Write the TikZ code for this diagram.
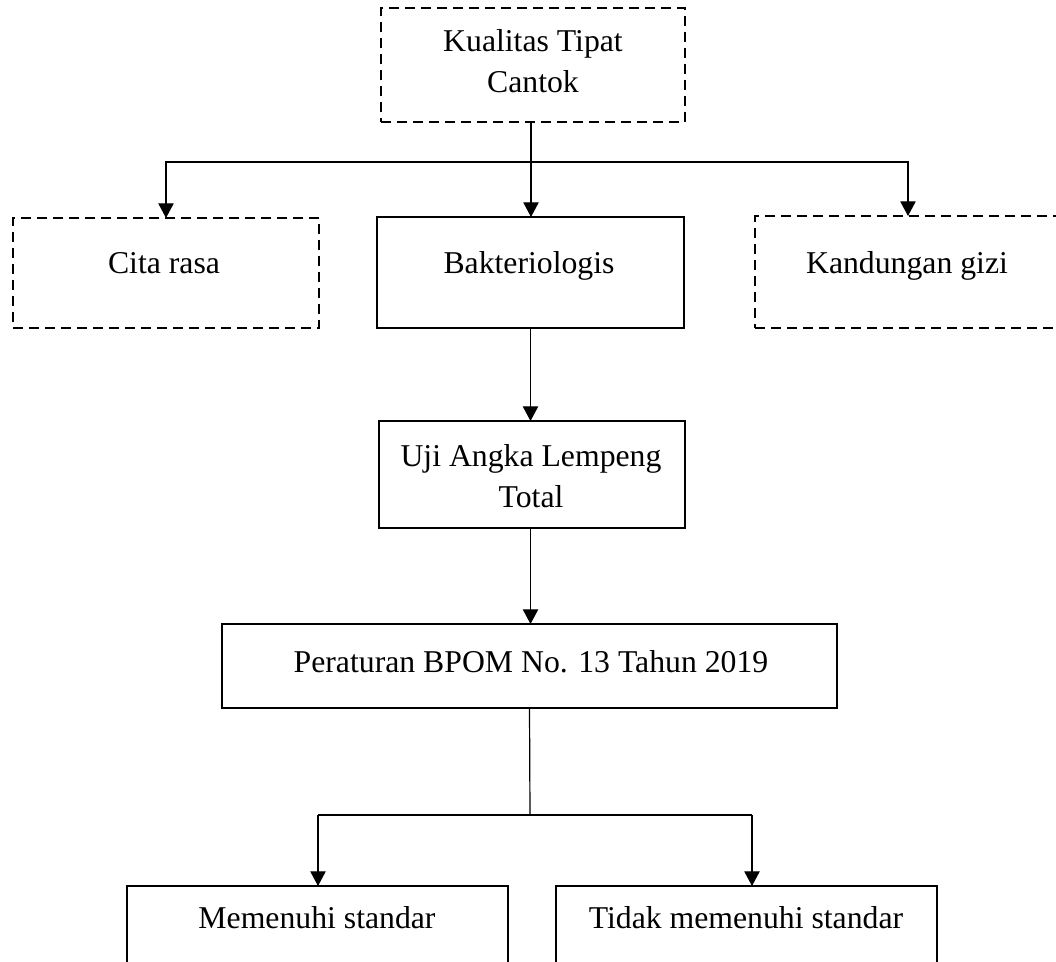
\documentclass[tikz,border=0pt]{standalone}
\usepackage{fontspec}
\setmainfont{Liberation Serif}
\usetikzlibrary{arrows.meta}
\begin{document}
\begin{tikzpicture}[x=0.75pt,y=-0.75pt,
  sbox/.style={draw, line width=1.9pt, rectangle, inner sep=0pt, outer sep=0pt},
  dbox/.style={sbox, line width=1.7pt, dash pattern=on 7.5pt off 4.5pt},
  lbl/.style={font=\fontsize{23.8pt}{30.75pt}\selectfont, anchor=base, align=center, inner sep=0pt},
  conn/.style={line width=0.9pt},
  arr/.style={conn, -{Triangle[length=11pt,width=11.5pt]}}]
\path[use as bounding box, clip] (0,0) rectangle (1056,961);

% boxes
\node[dbox, minimum width=304*0.75pt, minimum height=114*0.75pt] (top) at (533,65) {};
\node[dbox, minimum width=306*0.75pt, minimum height=110*0.75pt] (cita) at (166,273) {};
\node[sbox, minimum width=307*0.75pt, minimum height=111*0.75pt] (bakt) at (530.5,272.5) {};
\node[dbox, minimum width=306*0.75pt, minimum height=112*0.75pt] (kand) at (908,272) {};
\node[sbox, minimum width=306*0.75pt, minimum height=107*0.75pt] (uji) at (532,474.5) {};
\node[sbox, minimum width=615*0.75pt, minimum height=84*0.75pt] (per) at (529.5,666) {};
\node[sbox, minimum width=381*0.75pt, minimum height=114*0.75pt] (mem) at (317.5,943) {};
\node[sbox, minimum width=381*0.75pt, minimum height=114*0.75pt] (tidak) at (746.5,943) {};

% texts (base anchor = baseline of the last line)
\node[lbl] (ttop) at (533,92) {Kualitas Tipat\\Cantok};
\node[lbl] (tcita) at (164,273) {Cita rasa};
\node[lbl] (tbakt) at (529,273) {Bakteriologis};
\node[lbl] (tkand) at (907,273) {Kandungan gizi};
\node[lbl] (tuji) at (531,507) {Uji Angka Lempeng\\Total};
\node[lbl] (tper) at (531,672) {Peraturan BPOM No. 13 Tahun 2019};
\node[lbl] (tmem) at (317,928) {Memenuhi standar};
\node[lbl] (ttidak) at (746,928) {Tidak memenuhi standar};

% connectors
\coordinate (b1) at (531,162);
\draw[arr] (b1 |- top.south) -- (b1 |- bakt.north);
\draw[arr] (b1) -| (cita.north);
\draw[arr] (b1) -| (kand.north);
\draw[arr] (bakt.south) -- (bakt.south |- uji.north);
\draw[arr] (bakt.south |- uji.south) -- (bakt.south |- per.north);
\coordinate (b2) at (530,815);
\coordinate (m2) at (318,815);
\coordinate (t2) at (752,815);
\draw[conn] (per.south) -- (b2);
\draw[conn] (m2) -- (t2);
\draw[arr] (m2) -- (m2 |- mem.north);
\draw[arr] (t2) -- (t2 |- tidak.north);
\end{tikzpicture}
\end{document}
